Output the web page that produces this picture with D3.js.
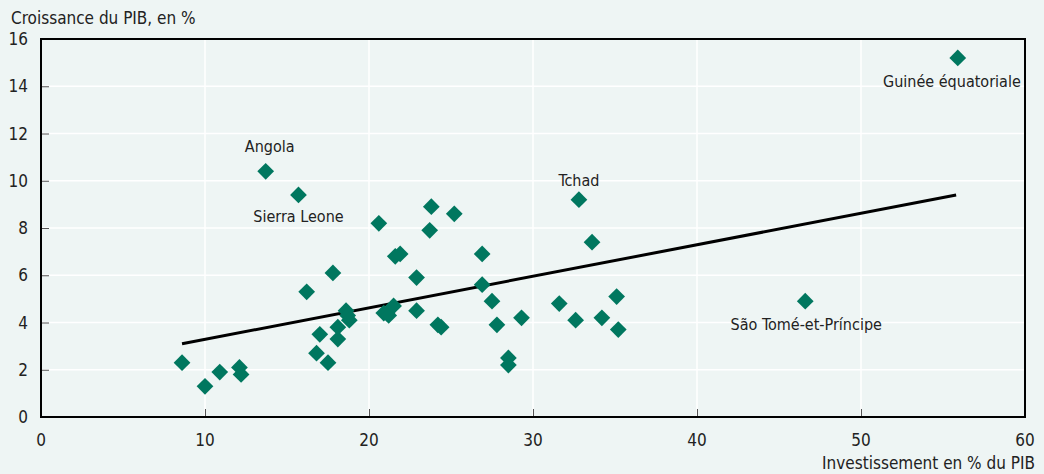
<!DOCTYPE html>
<html>
<head>
<meta charset="utf-8">
<script src="https://cdn.jsdelivr.net/npm/d3@7"></script>
<style>
  body { margin: 0; background: #eef5f4; }
  svg { display: block; font-family: "Liberation Sans Narrow", "DejaVu Sans Condensed", sans-serif; }
</style>
</head>
<body>
<div id="chart"></div>
<script>
// investment (% of GDP) and GDP growth (%) per country
var investment = [8.6, 10.0, 10.9, 12.1, 12.2, 13.7, 15.7, 16.2, 16.8, 17.0, 17.5, 17.8, 18.1, 18.1,
  18.6, 18.7, 18.8, 20.6, 20.9, 21.1, 21.2, 21.5, 21.6, 21.9, 22.9, 22.9, 23.7, 23.8, 24.2, 24.4,
  25.2, 26.9, 26.9, 27.5, 27.8, 28.5, 28.5, 29.3, 31.6, 32.6, 32.8, 33.6, 34.2, 35.1, 35.2, 46.6, 55.9];
var growth = [2.3, 1.3, 1.9, 2.1, 1.8, 10.4, 9.4, 5.3, 2.7, 3.5, 2.3, 6.1, 3.3, 3.8,
  4.5, 4.3, 4.1, 8.2, 4.4, 4.4, 4.3, 4.7, 6.8, 6.9, 5.9, 4.5, 7.9, 8.9, 3.9, 3.8,
  8.6, 6.9, 5.6, 4.9, 3.9, 2.5, 2.2, 4.2, 4.8, 4.1, 9.2, 7.4, 4.2, 5.1, 3.7, 4.9, 15.2];
// labelled countries: index into the arrays above
var labelNames = ["Angola", "Sierra Leone", "Tchad", "São Tomé-et-Príncipe", "Guinée équatoriale"];
var labelIndex = [5, 6, 40, 45, 46];
// trend line end points
var trendX = [8.6, 55.8];
var trendY = [3.1, 9.4];
var xTicks = [0, 10, 20, 30, 40, 50, 60];
var yTicks = [0, 2, 4, 6, 8, 10, 12, 14, 16];

var width = 1044, height = 474;
var margin = { top: 39, left: 41, bottom: 57, right: 19 };
var fontSize = 17;
// label placement relative to its point
var labelPos = [
  { dx: 4, dy: -19, anchor: "middle" },
  { dx: 0, dy: 27, anchor: "middle" },
  { dx: 0, dy: -14, anchor: "middle" },
  { dx: 1, dy: 29, anchor: "middle" },
  { dx: 63, dy: 29, anchor: "end" }
];

var svg = d3.select("#chart").append("svg")
  .attr("width", width)
  .attr("height", height);

svg.append("rect").attr("width", width).attr("height", height).attr("fill", "#eef5f4");

var x = d3.scaleLinear().domain([0, 60]).range([margin.left, width - margin.right]);
var y = d3.scaleLinear().domain([0, 16]).range([height - margin.bottom, margin.top]);

// grid
svg.append("g").selectAll("line.gx")
  .data(xTicks.slice(1, -1)).enter().append("line")
  .attr("x1", function (d) { return x(d); }).attr("x2", function (d) { return x(d); })
  .attr("y1", y(0)).attr("y2", y(16))
  .attr("stroke", "#fff").attr("stroke-width", 1.5);
svg.append("g").selectAll("line.gy")
  .data(yTicks.slice(1, -1)).enter().append("line")
  .attr("y1", function (d) { return y(d); }).attr("y2", function (d) { return y(d); })
  .attr("x1", x(0)).attr("x2", x(60))
  .attr("stroke", "#fff").attr("stroke-width", 1.5);

// inner tick marks
var xAxis = d3.axisBottom(x).tickValues(xTicks).tickSize(-8).tickFormat("");
var yAxis = d3.axisLeft(y).tickValues(yTicks).tickSize(-8).tickFormat("");
svg.append("g").attr("transform", "translate(0," + y(0) + ")").call(xAxis)
  .call(function (g) { g.select(".domain").remove(); g.selectAll("line").attr("stroke", "#555"); });
svg.append("g").attr("transform", "translate(" + x(0) + ",0)").call(yAxis)
  .call(function (g) { g.select(".domain").remove(); g.selectAll("line").attr("stroke", "#555"); });

// frame
svg.append("rect")
  .attr("x", x(0)).attr("y", y(16))
  .attr("width", x(60) - x(0)).attr("height", y(0) - y(16))
  .attr("fill", "none").attr("stroke", "#000").attr("stroke-width", 2);

// tick labels
svg.append("g").selectAll("text")
  .data(yTicks).enter().append("text")
  .attr("x", x(0) - 13).attr("y", function (d) { return y(d); })
  .attr("dy", "0.36em").attr("text-anchor", "end")
  .attr("font-size", fontSize).attr("fill", "#222")
  .text(function (d) { return d; });
svg.append("g").selectAll("text")
  .data(xTicks).enter().append("text")
  .attr("x", function (d) { return x(d); }).attr("y", y(0) + 29)
  .attr("text-anchor", "middle")
  .attr("font-size", fontSize).attr("fill", "#222")
  .text(function (d) { return d; });

// axis titles
svg.append("text").attr("x", 11).attr("y", 24)
  .attr("font-size", fontSize).attr("fill", "#222")
  .text("Croissance du PIB, en %");
svg.append("text").attr("x", 1035).attr("y", 469)
  .attr("text-anchor", "end")
  .attr("font-size", fontSize).attr("fill", "#222")
  .text("Investissement en % du PIB");

// trend line
var line = d3.line().x(function (d) { return x(d[0]); }).y(function (d) { return y(d[1]); });
svg.append("path")
  .attr("d", line(d3.zip(trendX, trendY)))
  .attr("fill", "none").attr("stroke", "#000").attr("stroke-width", 3);

// points
var diamond = d3.symbol().type(d3.symbolSquare).size(140);
svg.append("g").selectAll("path")
  .data(d3.zip(investment, growth)).enter().append("path")
  .attr("d", diamond)
  .attr("transform", function (d) { return "translate(" + x(d[0]) + "," + y(d[1]) + ") rotate(45)"; })
  .attr("fill", "#00775f");

// country labels
svg.append("g").selectAll("text")
  .data(labelNames).enter().append("text")
  .attr("x", function (d, i) { return x(investment[labelIndex[i]]) + labelPos[i].dx; })
  .attr("y", function (d, i) { return y(growth[labelIndex[i]]) + labelPos[i].dy; })
  .attr("text-anchor", function (d, i) { return labelPos[i].anchor; })
  .attr("font-size", fontSize - 1).attr("fill", "#222")
  .text(function (d) { return d; });
</script>
</body>
</html>
